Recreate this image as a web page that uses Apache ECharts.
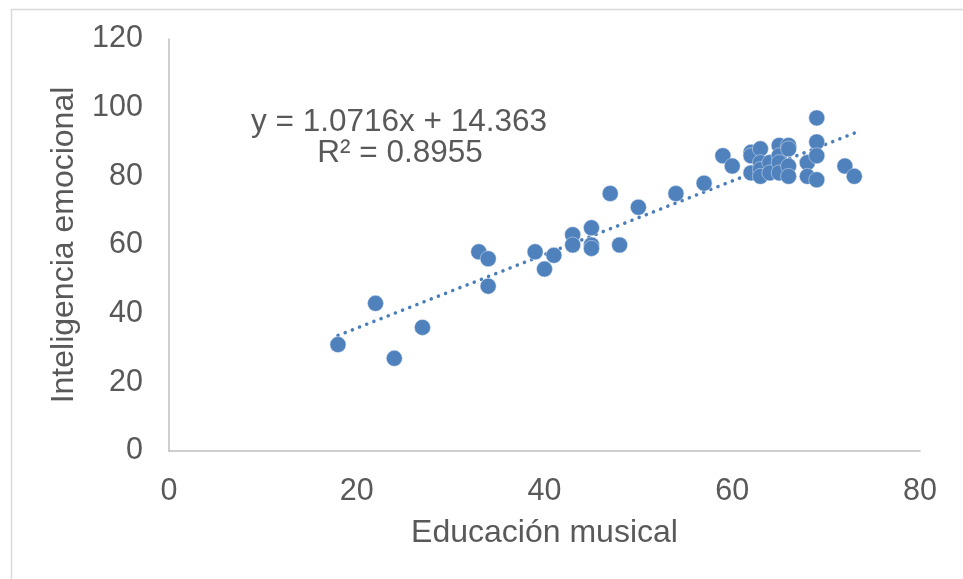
<!DOCTYPE html>
<html>
<head>
<meta charset="utf-8">
<script src="https://cdn.jsdelivr.net/npm/echarts@6/dist/echarts.min.js"></script>
<style>html,body{margin:0;padding:0;background:#fff}#c{width:963px;height:579px}</style>
</head>
<body>
<div id="c"></div>
<script>
const educacionMusical = [18,22,24,27,33,34,34,39,40,41,43,43,45,45,45,47,48,50,54,57,59,60,62,62,62,63,63,63,63,64,64,65,65,65,65,66,66,66,66,68,68,69,69,69,69,72,73];
const inteligenciaEmocional = [31,43,27,36,58,56,48,58,53,57,63,60,65,60,59,75,60,71,75,78,86,83,87,86,81,88,84,82,80,84,81,89,86,84,81,89,88,83,80,84,80,97,90,86,79,83,80];
const trendSlope = 1.0716;
const trendIntercept = 14.363;
const trendR2 = '0.8955';
const xTicks = [0,20,40,60,80];
const yTicks = [0,20,40,60,80,100,120];

const points = educacionMusical.map((x,i)=>[x, inteligenciaEmocional[i]]);
const xMinData = Math.min(...educacionMusical), xMaxData = Math.max(...educacionMusical);
const trend = [[xMinData, trendSlope*xMinData+trendIntercept],[xMaxData, trendSlope*xMaxData+trendIntercept]];

const FONT = '"Liberation Sans", Arial, sans-serif';
const TXT = '#595959';
const chart = echarts.init(document.getElementById('c'), null, {renderer:'canvas'});
chart.setOption({
  backgroundColor:'#fff',
  animation:false,
  grid:{left:169, right:43, top:39, bottom:128, containLabel:false},
  xAxis:{
    type:'value', min:xTicks[0], max:xTicks[xTicks.length-1], interval:20,
    name:'Educación musical', nameLocation:'middle', nameGap:66,
    nameTextStyle:{fontFamily:FONT, fontSize:32, color:TXT},
    axisLine:{show:true, lineStyle:{color:'#BFBFBF', width:1.5}},
    axisTick:{show:false},
    splitLine:{show:false},
    axisLabel:{fontFamily:FONT, fontSize:30.5, color:TXT, margin:25}
  },
  yAxis:{
    type:'value', min:yTicks[0], max:yTicks[yTicks.length-1], interval:20,
    name:'Inteligencia emocional', nameLocation:'middle', nameGap:89, nameRotate:90,
    nameTextStyle:{fontFamily:FONT, fontSize:32, color:TXT},
    axisLine:{show:true, lineStyle:{color:'#BFBFBF', width:1.5}},
    axisTick:{show:false},
    splitLine:{show:false},
    axisLabel:{fontFamily:FONT, fontSize:30.5, color:TXT, margin:26}
  },
  graphic:[
    {type:'rect', left:9, top:7, shape:{width:1000, height:1000}, style:{fill:'none', stroke:'#D9D9D9', lineWidth:1.5}, z:-1},
    {type:'text', x:399, y:122, style:{text:'y = ' + trendSlope + 'x + ' + trendIntercept, font:'31.5px "Liberation Sans", Arial, sans-serif', fill:TXT, textAlign:'center', textVerticalAlign:'middle'}},
    {type:'text', x:400, y:153, style:{text:'R² = ' + trendR2, font:'31.5px "Liberation Sans", Arial, sans-serif', fill:TXT, textAlign:'center', textVerticalAlign:'middle'}}
  ],
  series:[
    {type:'line', data:trend, symbol:'none', silent:true, z:1,
     lineStyle:{color:'#4A7EBB', width:3.5, type:[0.1,7.6], cap:'round'}},
    {type:'scatter', data:points, symbol:'circle', symbolSize:16, z:2,
     itemStyle:{color:'#4F81BD', opacity:1, borderColor:'#DCE6F2', borderWidth:0.5}}
  ]
});
</script>
</body>
</html>
